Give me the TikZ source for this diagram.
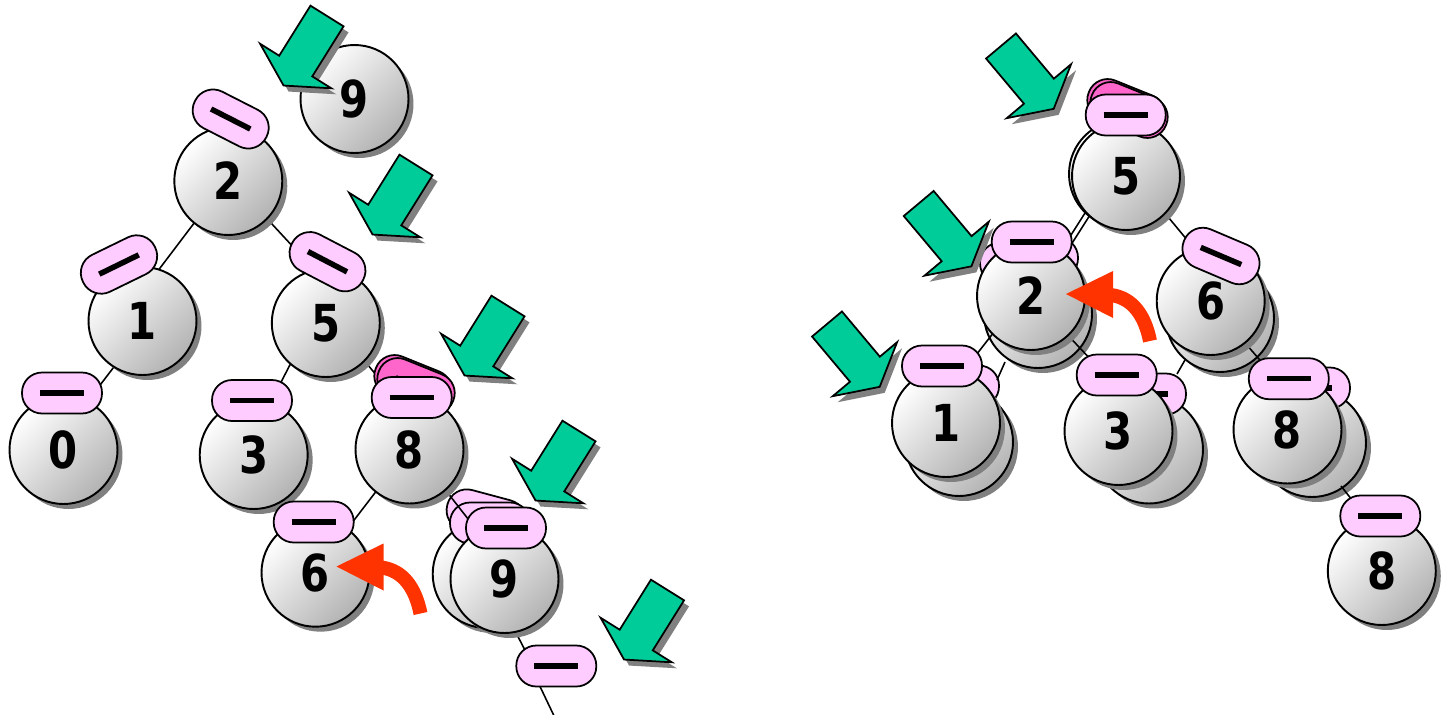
\documentclass[tikz,border=0pt]{standalone}
\usepackage{fontspec}
\newfontfamily\digitfont{DejaVu Sans}[FakeStretch=0.82]
\usetikzlibrary{shadows}

\definecolor{pillpink}{HTML}{FFCCFF}
\definecolor{hotpink}{HTML}{FF66CC}
\definecolor{arrowgreen}{HTML}{00CC99}
\definecolor{swaporange}{HTML}{FF3300}
\newcommand{\nilbar}{\rule{0.88cm}{0.11cm}}

\begin{document}
\begin{tikzpicture}[x=0.02cm,y=-0.02cm,
    ball/.style={circle,draw,line width=1.1pt,minimum size=2.16cm,inner sep=0pt,
      top color=white,bottom color=black!30,shading angle=45,
      drop shadow={shadow xshift=0.1cm,shadow yshift=-0.1cm,opacity=1,fill=black!50},
      font=\digitfont\bfseries\fontsize{29}{29}\selectfont},
    pill/.style={draw,fill=pillpink,line width=1pt,rounded corners=0.4cm,
      minimum width=1.6cm,minimum height=0.82cm,inner sep=0pt},
    hotpill/.style={pill,fill=hotpink},
    link/.style={line width=0.9pt},
    swaparrow/.style={draw=swaporange,line width=0.28cm}]
\useasboundingbox (0,0) rectangle (1441,714);

% left tree
\node[ball] (l9back) at (486.7,574) {};
\node[pill,rotate=-15] (l9pa) at (486,515) {};
\node[pill] (l9pb) at (490,523) {};
\draw[link] (198.7,217) -- (154,276)
  (261.5,212.7) -- (296,250)
  (120,359) -- (94,393)
  (294,357) -- (277,390)
  (358,353) -- (382,382)
  (381,485) -- (348,528)
  (440,483) -- (472,524)
  (512,625) -- (528,656)
  (535,676) -- (556,720);
\node[ball] (l9top) at (354.5,99) {9};
\node[ball] (l2) at (228.3,181) {2};
\node[ball] (l1) at (142.5,321) {1};
\node[ball] (l5) at (325.8,323) {5};
\node[ball] (l0) at (63.5,450) {0};
\node[ball] (l3) at (253.7,455) {3};
\node[ball] (l8) at (409.5,449.5) {8};
\node[ball] (l6) at (315.5,572.7) {6};
\node[ball] (l9) at (504.5,579) {9};
\node[hotpill,rotate=-22] (l8h1) at (413,383) {\nilbar};
\node[hotpill,rotate=-22] (l8h2) at (416,386) {\nilbar};
\node[pill,rotate=-27] (lp2) at (230.7,119) {\nilbar};
\node[pill,rotate=26] (lp1) at (119,264.5) {\nilbar};
\node[pill,rotate=-27.5] (lp5) at (327.5,261.7) {\nilbar};
\node[pill] (lp0) at (62,393) {\nilbar};
\node[pill] (lp3) at (252,400.5) {\nilbar};
\node[pill] (lp8) at (411.7,397.5) {\nilbar};
\node[pill] (lp6) at (313.7,522) {\nilbar};
\node[pill] (lp9) at (506,528) {\nilbar};
\node[pill] (lpnil) at (556.3,666) {\nilbar};

% right tree
\node[ball] (r5back) at (1123,174) {};
\node[ball] (r2back) at (1038,314) {};
\node[ball] (r6back) at (1220,318) {};
\node[ball] (r1back) at (959,442) {};
\node[ball] (r3back) at (1149,449.5) {};
\node[ball] (r8back) at (1312,443) {};
\node[pill] (rp2b) at (1020,263) {};
\node[pill] (rp2a) at (1038,258) {};
\node[pill] (rp1b) at (959,386) {\nilbar};
\node[pill] (rp3b) at (1146,394) {\nilbar};
\node[pill] (rp8b) at (1310,388) {\nilbar};
\draw[link] (1092,202) -- (1064,246)
  (1097,204) -- (1069,248)
  (1159,206) -- (1188,241)
  (994,332) -- (973,359)
  (1005,362) -- (997,380)
  (1062,329) -- (1094,363)
  (1185,360) -- (1177,374)
  (1240,337) -- (1265,366)
  (1341,486) -- (1356,505);
\node[ball] (r5) at (1126,176) {5};
\node[ball] (r2) at (1031,296) {2};
\node[ball] (r6) at (1210.7,301) {6};
\node[ball] (r1) at (946,423) {1};
\node[ball] (r3) at (1118.5,431) {3};
\node[ball] (r8) at (1287.5,429.5) {8};
\node[ball] (r8leaf) at (1381.8,571) {8};
\node[hotpill,rotate=-22] (r5h1) at (1126,107) {\nilbar};
\node[hotpill,rotate=-22] (r5h2) at (1129,110) {\nilbar};
\node[pill] (rp5) at (1125.7,115) {\nilbar};
\node[pill] (rp2) at (1031.7,242) {\nilbar};
\node[pill,rotate=-23] (rp6) at (1221,256) {\nilbar};
\node[pill] (rp1) at (942,366) {\nilbar};
\node[pill] (rp3) at (1116.7,375) {\nilbar};
\node[pill] (rp8) at (1288.8,378.7) {\nilbar};
\node[pill] (rp8leaf) at (1380.3,516) {\nilbar};

% swap arrows
\foreach \dx/\dy in {0/0,-729.5/272.5} {
  \begin{scope}[shift={(\dx,\dy)}]
    \draw[swaparrow] (1150,341) .. controls (1145,316) and (1133,298) .. (1111,295);
    \fill[swaporange] (1066,294) -- (1113,271) -- (1113,318) -- cycle;
  \end{scope}
}

% green arrows
\foreach \x/\y/\a in {327/16/122,416/165/122,508/306/122,579/431/122,667.5/590/122,
    1001/46/50,918.7/203.5/50,827/324/50} {
  \fill[black!50,shift={(\x+5,\y+6)},rotate=-\a]
    (0,-19.5) -- (59,-19.5) -- (59,-42) -- (82,0) -- (59,42) -- (59,19.5) -- (0,19.5) -- cycle;
  \filldraw[fill=arrowgreen,line width=1pt,line join=miter,shift={(\x,\y)},rotate=-\a]
    (0,-19.5) -- (59,-19.5) -- (59,-42) -- (82,0) -- (59,42) -- (59,19.5) -- (0,19.5) -- cycle;
}
\end{tikzpicture}
\end{document}
